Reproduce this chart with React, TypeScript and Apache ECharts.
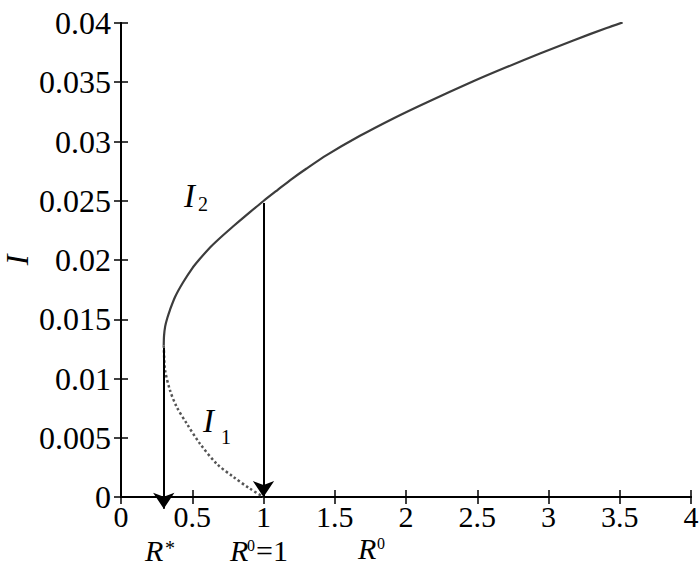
import React, { useEffect, useRef } from "react";
import * as echarts from "echarts";

// Upper (stable) branch I2
const upperR = [0.300, 0.302, 0.310, 0.325, 0.344, 0.380, 0.435, 0.500, 0.554, 0.620, 0.674, 0.750, 0.830, 0.905, 1.000, 1.100, 1.200, 1.300, 1.443, 1.677, 1.911, 2.145, 2.472, 2.707, 2.940, 3.174, 3.408, 3.520];
const upperI = [0.0128, 0.0136, 0.0144, 0.0151, 0.0158, 0.0169, 0.0181, 0.0193, 0.0201, 0.0210, 0.02163, 0.02245, 0.02328, 0.02404, 0.02498, 0.02592, 0.02685, 0.0277, 0.02885, 0.03048, 0.03195, 0.0333, 0.03508, 0.03628, 0.03742, 0.03853, 0.03958, 0.04005];
// Lower (unstable) branch I1
const lowerR = [0.300, 0.303, 0.309, 0.344, 0.391, 0.461, 0.554, 0.672, 0.788, 0.905, 1.000];
const lowerI = [0.0128, 0.0118, 0.0107, 0.0090, 0.0076, 0.0062, 0.0045, 0.0028, 0.0017, 0.0007, 0.0];
// Arrows: R position, start I, end I
const arrowR = [0.3, 1.0];
const arrowTop = [0.0126, 0.0248];
const arrowEnd = [-0.0010, 0.0];

const xTicks = ["0", "0.5", "1", "1.5", "2", "2.5", "3", "3.5", "4"];
const yTicks = ["0", "0.005", "0.01", "0.015", "0.02", "0.025", "0.03", "0.035", "0.04"];

const FONT = "Liberation Serif";

export default function App() {
  const ref = useRef<HTMLDivElement>(null);
  useEffect(() => {
    const chart = echarts.init(ref.current!, null, { renderer: "svg" });
    const upper = upperR.map((r, i) => [r, upperI[i]]);
    const lower = lowerR.map((r, i) => [r, lowerI[i]]);
    const arrows = arrowR.map((r, i) => ({ coords: [[r, arrowTop[i]], [r, arrowEnd[i]]] }));
    const axisLine = { show: true, lineStyle: { color: "#000", width: 2 } };
    const tick = { show: true, inside: true, length: 7, lineStyle: { color: "#000", width: 1.5 } };
    const richX = { t: { fontFamily: FONT, fontSize: 30, color: "#000" } };
    const richY = { t: { fontFamily: FONT, fontSize: 32, color: "#000" } };
    const text = (x: number, y: number, t: string, size: number, italic: boolean) => ({
      type: "text",
      x,
      y,
      style: {
        text: t,
        fontFamily: FONT,
        fontSize: size,
        fontStyle: italic ? "italic" : "normal",
        fill: "#000",
        align: "left",
        verticalAlign: "middle",
      },
    });
    chart.setOption({
      animation: false,
      backgroundColor: "#fff",
      textStyle: { fontFamily: FONT },
      grid: { left: 121, right: 9, top: 23, bottom: 74, containLabel: false, outerBoundsMode: "none" },
      xAxis: [
        {
          type: "value",
          min: 0,
          max: 4,
          interval: 0.5,
          axisLine,
          axisTick: tick,
          splitLine: { show: false },
          axisLabel: {
            fontFamily: FONT,
            fontSize: 30,
            color: "#000",
            margin: 4,
            rich: richX,
            formatter: (v: number) => "{t|" + (xTicks[Math.round(v / 0.5)] ?? "") + "}",
          },
        },
        {
          type: "value",
          position: "top",
          min: 0,
          max: 4,
          interval: 0.5,
          axisLine,
          axisTick: tick,
          splitLine: { show: false },
          axisLabel: { show: false },
        },
      ],
      yAxis: [
        {
          type: "value",
          min: 0,
          max: 0.04,
          interval: 0.005,
          axisLine,
          axisTick: tick,
          splitLine: { show: false },
          axisLabel: {
            fontFamily: FONT,
            fontSize: 32,
            color: "#000",
            margin: 10,
            rich: richY,
            formatter: (v: number) => "{t|" + (yTicks[Math.round(v / 0.005)] ?? "") + "}",
          },
        },
        {
          type: "value",
          position: "right",
          min: 0,
          max: 0.04,
          interval: 0.005,
          axisLine,
          axisTick: tick,
          splitLine: { show: false },
          axisLabel: { show: false },
        },
      ],
      series: [
        {
          type: "line",
          data: upper,
          showSymbol: false,
          symbol: "none",
          smooth: 0.25,
          lineStyle: { color: "#3c3c3c", width: 2.2 },
          z: 3,
        },
        {
          type: "line",
          data: lower,
          showSymbol: false,
          symbol: "none",
          smooth: 0.3,
          lineStyle: { color: "#555", width: 2.5, type: "dotted" },
          z: 3,
        },
        {
          type: "lines",
          coordinateSystem: "cartesian2d",
          clip: false,
          symbol: ["none", "arrow"],
          symbolSize: [12, 16],
          lineStyle: { color: "#000", width: 2, opacity: 1, curveness: 0 },
          data: arrows,
          z: 4,
        },
      ],
      graphic: [
        {
          type: "text",
          x: 17,
          y: 260,
          rotation: Math.PI / 2,
          style: {
            text: "I",
            fontFamily: FONT,
            fontSize: 32,
            fontStyle: "italic",
            fill: "#000",
            align: "center",
            verticalAlign: "middle",
          },
        },
        text(184, 196, "I", 33, true),
        text(198, 204, "2", 20, false),
        text(203, 421, "I", 33, true),
        text(221, 437, "1", 20, false),
        text(145, 550, "R", 30, true),
        text(165, 548, "*", 20, false),
        text(230, 550, "R", 30, true),
        text(247, 545, "0", 16, false),
        text(256, 550, "=1", 30, false),
        text(358, 548, "R", 30, true),
        text(377, 543, "0", 16, false),
      ],
    });
    return () => chart.dispose();
  }, []);
  return (
    <div
      ref={ref}
      style={{ position: "fixed", left: 0, top: 0, width: 700, height: 571, background: "#fff" }}
    />
  );
}
